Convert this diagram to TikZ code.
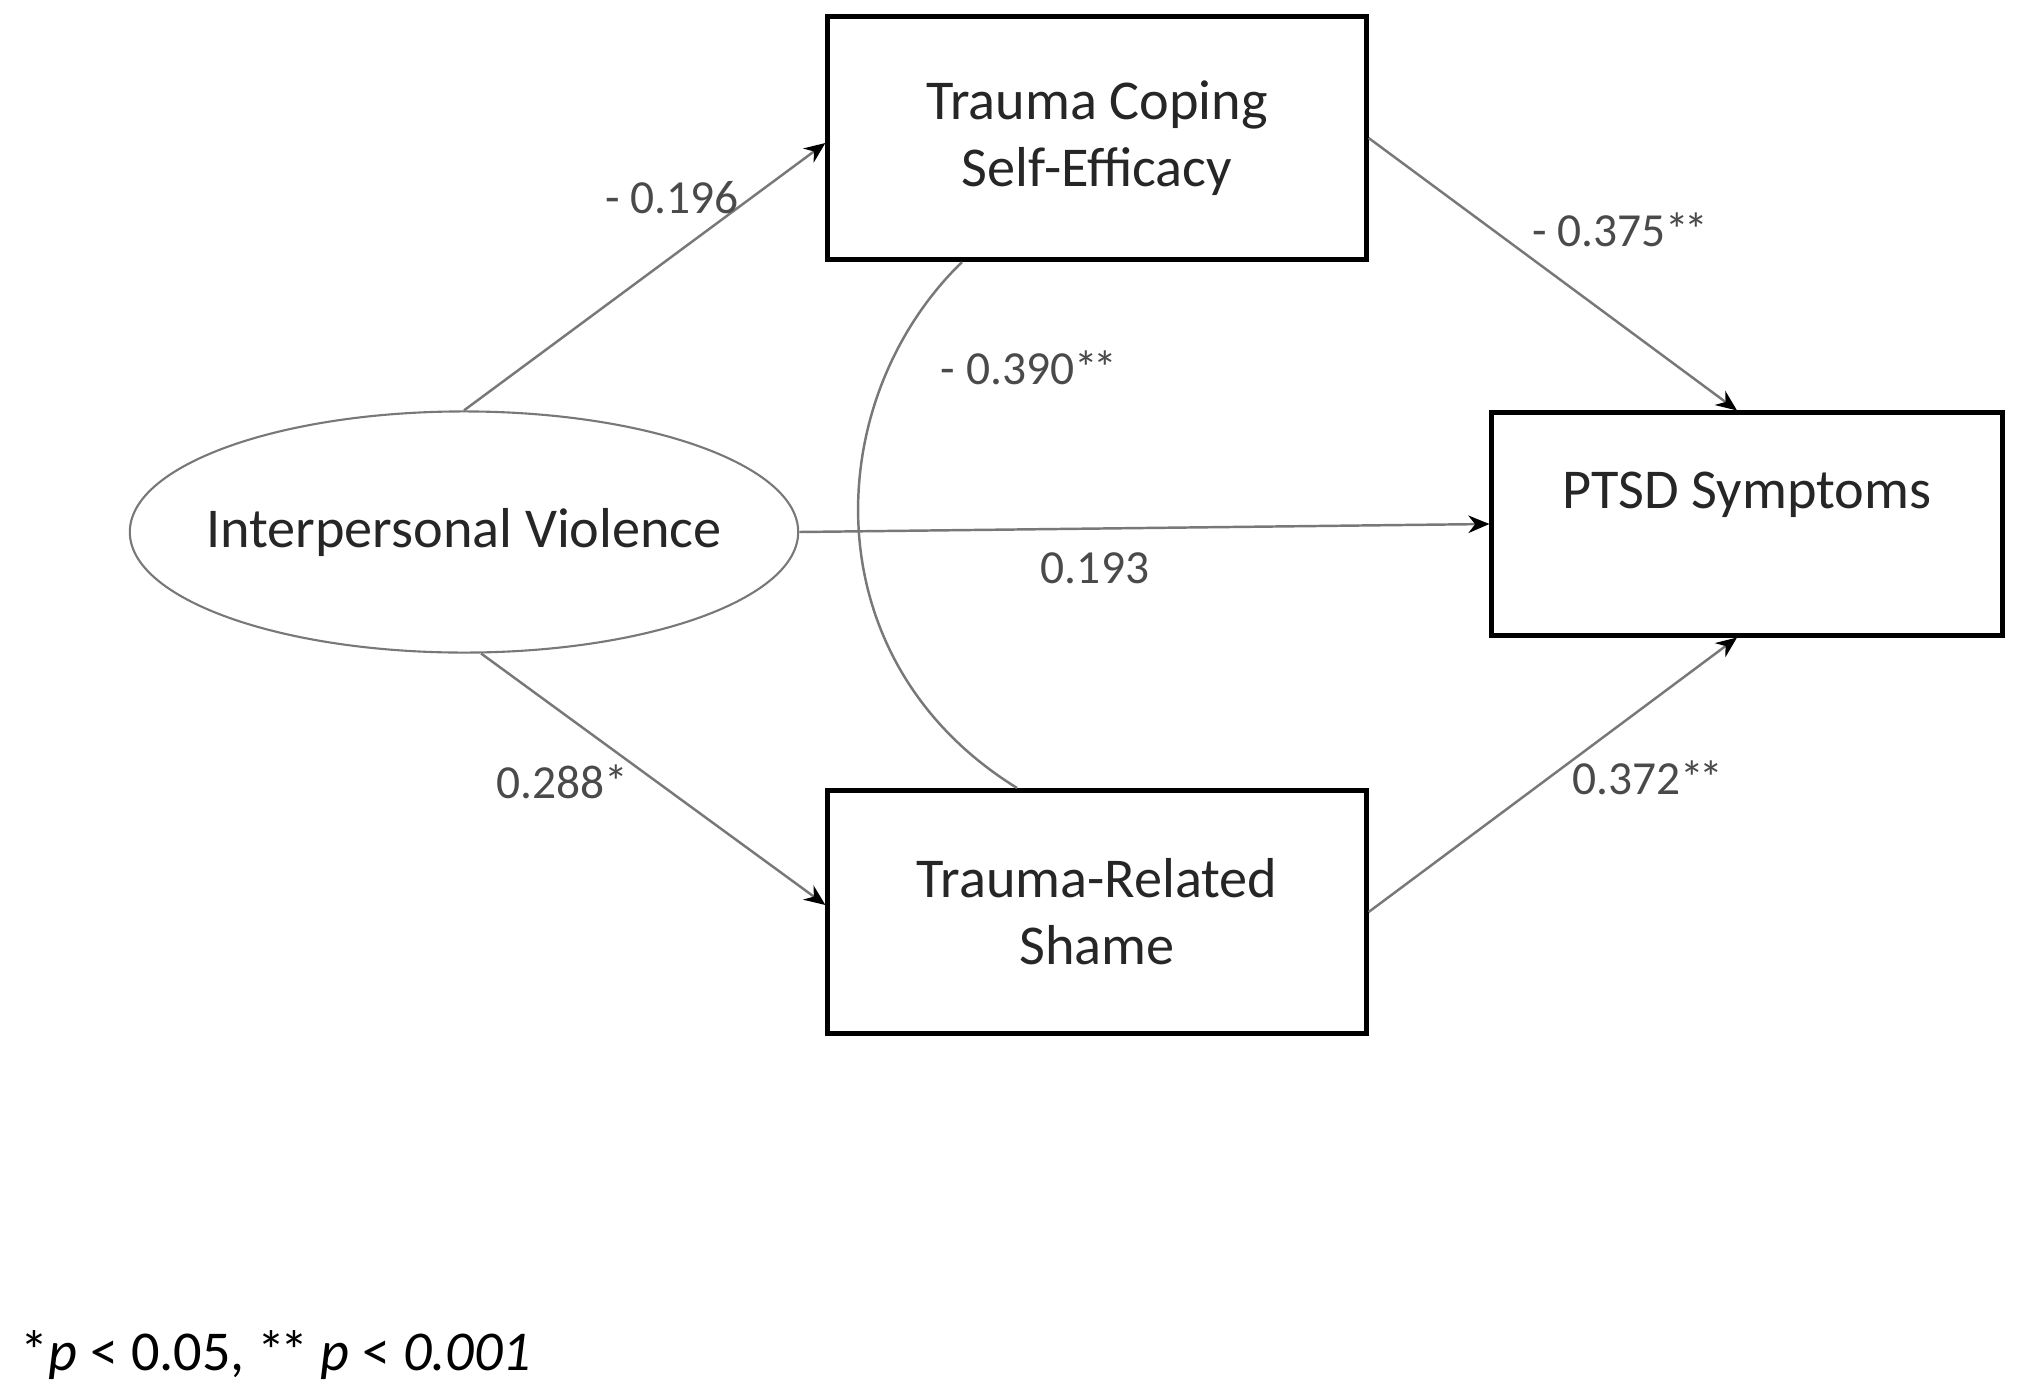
\documentclass[tikz,border=0pt]{standalone}
\usepackage{fontspec}
\setmainfont{Carlito}
\usetikzlibrary{arrows.meta,calc,shapes.geometric}
\definecolor{pfad}{HTML}{787878}
\definecolor{zahl}{HTML}{4A4A4A}
\newcommand{\zweistern}{*\kern-0.1em*}

\begin{document}
\begin{tikzpicture}[x=0.01cm,y=-0.01cm]
	\useasboundingbox (0,0) rectangle (2019,1397);

	\begin{scope}[every node/.style={rectangle,draw,line width=1.4pt,align=center,
		font=\fontsize{16}{19}\selectfont,text=black!85}]
		\node[minimum width=5.38cm,minimum height=2.43cm] (coping) at (1097,138) {Trauma Coping\\Self-Efficacy};
		\node[minimum width=5.10cm,minimum height=2.22cm] (ptsd) at (1747,524) {PTSD Symptoms\\\mbox{}};
		\node[minimum width=5.38cm,minimum height=2.43cm] (shame) at (1097,912) {Trauma-Related\\Shame};
	\end{scope}
	\node[ellipse,draw=pfad,line width=0.6pt,inner sep=0pt,minimum width=6.68cm,minimum height=2.41cm,
		font=\fontsize{16}{19}\selectfont,text=black!85] (violence) at (464,532) {\makebox[0pt]{Interpersonal Violence}};

	\begin{scope}[>={Stealth[black,length=6pt,width=5pt]},
		every edge/.append style={draw=pfad,line width=0.7pt}
	]
		\path (violence.north) edge[->] ($(coping.west)+(0,5)$);
		\path (coping.east) edge[->] ($(ptsd.north)+(-10,0)$);
		\path (violence.east) edge[->] (ptsd.west);
		\path (violence.-82) edge[->] ($(shame.west)+(0,-7)$);
		\path (shame.east) edge[->] ($(ptsd.south)+(-10,0)$);
	\end{scope}

	% korrelation zwischen den mediatoren
	\draw[pfad,line width=0.7pt] ($(coping.south)+(-135,0)$) .. controls (820,400) and (810,660) .. ($(shame.north)+(-80,0)$);

	\begin{scope}[every node/.style={text=zahl,font=\fontsize{13.5}{16}\selectfont}]
		\node (wcoping) at (672,198) {- 0.196};
		\node (wptsdc) at (1620,230) {- 0.375\zweistern};
		\node (wkorr) at (1029,368) {- 0.390\zweistern};
		\node (wdirekt) at (1095,568) {0.193};
		\node (wshame) at (562,782) {0.288*};
		\node (wptsds) at (1648,778) {0.372\zweistern};
	\end{scope}

	\node[anchor=west,inner sep=0pt,font=\fontsize{16}{19}\selectfont] (fussnote) at (20,1355)
		{*\textit{p} < 0.05, \zweistern{} \textit{p} < \textit{0.001}};
\end{tikzpicture}
\end{document}
